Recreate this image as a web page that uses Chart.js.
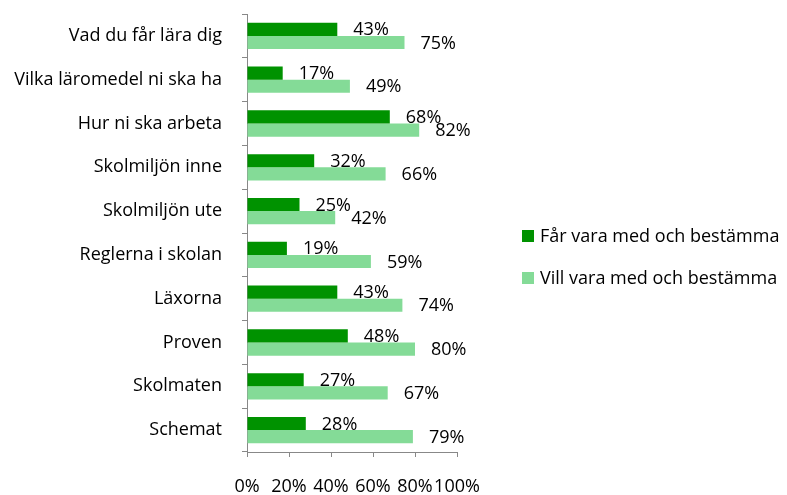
<!DOCTYPE html>
<html>
<head>
<meta charset="utf-8">
<script src="https://cdn.jsdelivr.net/npm/chart.js@4"></script>
<style>
  html, body { margin: 0; padding: 0; background: #fff; }
  #wrap { width: 787px; height: 495px; }
</style>
</head>
<body>
<div id="wrap"><canvas id="chart" width="787" height="495"></canvas></div>
<script>
const categories = ['Vad du får lära dig', 'Vilka läromedel ni ska ha', 'Hur ni ska arbeta', 'Skolmiljön inne',
    'Skolmiljön ute', 'Reglerna i skolan', 'Läxorna', 'Proven', 'Skolmaten', 'Schemat'];
const farVara = [43, 17, 68, 32, 25, 19, 43, 48, 27, 28];
const villVara = [75, 49, 82, 66, 42, 59, 74, 80, 67, 79];
const xTicks = [0, 20, 40, 60, 80, 100];

const FONT = "'Open Sans', sans-serif";

// value labels to the right of each bar
const barLabels = {
    id: 'barLabels',
    afterDatasetsDraw(chart) {
        const ctx = chart.ctx;
        ctx.save();
        ctx.font = '18px ' + FONT;
        ctx.fillStyle = '#000';
        ctx.textAlign = 'left';
        ctx.textBaseline = 'middle';
        chart.data.datasets.forEach((ds, i) => {
            chart.getDatasetMeta(i).data.forEach((bar, j) => {
                ctx.fillText(ds.data[j] + '%', bar.x + 16, bar.y + 1);
            });
        });
        ctx.restore();
    }
};

// legend on the right
const sideLegend = {
    id: 'sideLegend',
    afterDraw(chart) {
        const ctx = chart.ctx;
        ctx.save();
        ctx.font = '18px ' + FONT;
        ctx.textBaseline = 'middle';
        ctx.textAlign = 'left';
        chart.data.datasets.forEach((ds, i) => {
            const y = 236 + i * 42;
            ctx.fillStyle = ds.backgroundColor;
            ctx.fillRect(522, y - 6, 12, 12);
            ctx.fillStyle = '#000';
            ctx.fillText(ds.label, 540, y + 1);
        });
        ctx.restore();
    }
};

new Chart(document.getElementById('chart'), {
    type: 'bar',
    data: {
        labels: categories,
        datasets: [
            { label: 'Får vara med och bestämma', data: farVara, backgroundColor: '#009200' },
            { label: 'Vill vara med och bestämma', data: villVara, backgroundColor: '#84DB97' }
        ]
    },
    options: {
        indexAxis: 'y',
        responsive: false,
        animation: false,
        categoryPercentage: 0.6,
        barPercentage: 1.0,
        layout: { padding: { top: 14, right: 330, left: 0, bottom: 0 } },
        plugins: {
            legend: { display: false },
            tooltip: { enabled: false }
        },
        scales: {
            x: {
                min: 0,
                max: 100,
                afterBuildTicks: (scale) => { scale.ticks = xTicks.map(v => ({ value: v })); },
                afterFit: (scale) => { scale.height = 43; scale.paddingRight = 0; },
                grid: { drawOnChartArea: false, color: '#888', tickLength: 5 },
                border: { color: '#888' },
                ticks: {
                    color: '#000',
                    padding: 19,
                    autoSkip: false,
                    maxRotation: 0,
                    font: { family: FONT, size: 18 },
                    callback: (v) => v + '%'
                }
            },
            y: {
                afterFit: (scale) => {
                    scale.width = 247;
                    scale.paddingTop = 0;
                    scale.paddingBottom = 0;
                },
                grid: { drawOnChartArea: false, color: '#888', tickLength: 5, offset: true },
                border: { color: '#888' },
                ticks: {
                    color: '#000',
                    padding: 20,
                    font: { family: FONT, size: 18 }
                }
            }
        }
    },
    plugins: [barLabels, sideLegend]
});
</script>
</body>
</html>
